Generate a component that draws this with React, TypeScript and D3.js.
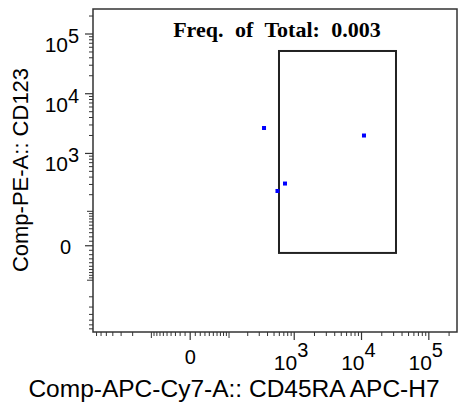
import React from "react";
import * as d3 from "d3";

// ---- data ----
const title = "Freq. of Total: 0.003";
const xAxisTitle = "Comp-APC-Cy7-A:: CD45RA APC-H7";
const yAxisTitle = "Comp-PE-A:: CD123";
const eventsX = [354, 10880, 729, 563];
const eventsY = [2668, 1997, 311, 232];
const gateX = [593, 32520];
const gateY = [-16, 51950];
const majorTicks = [0, 1e3, 1e4, 1e5];
const majorExponents = ["", "3", "4", "5"];
const domainMin = -791;
const domainMax = 262144;
const cofactor = 57;

const W = 459;
const H = 403;
const frame = { left: 93, right: 457, top: 9, bottom: 332 };

const T = (v: number) => Math.asinh(v / cofactor);

function buildMinorTicks(): { v: number; len: number }[] {
  const out: { v: number; len: number }[] = [];
  for (const sign of [1, -1]) {
    for (let k = 1; k <= 5; k++) {
      for (let j = 1; j <= 9; j++) {
        const v = sign * j * Math.pow(10, k);
        if (v < domainMin || v > domainMax) continue;
        if (majorTicks.includes(v)) continue;
        const len = j === 1 && k === 2 ? 6 : 4;
        out.push({ v, len });
      }
    }
  }
  return out;
}

export default function App() {
  const xs = d3.scaleLinear().domain([T(domainMin), T(domainMax)]).range([frame.left, frame.right]);
  const ys = d3.scaleLinear().domain([T(domainMin), T(domainMax)]).range([frame.bottom, frame.top]);
  const x = (v: number) => xs(T(v));
  const y = (v: number) => ys(T(v));
  const minor = buildMinorTicks();
  const sans = "'Liberation Sans', Arial, sans-serif";
  const tickColor = "#333";

  return (
    <svg width={W} height={H} style={{ position: "absolute", left: 0, top: 0, background: "#fff" }}>
      <rect x={0} y={0} width={W} height={H} fill="#fff" />
      {/* frame */}
      <rect
        x={frame.left}
        y={frame.top}
        width={frame.right - frame.left}
        height={frame.bottom - frame.top}
        fill="none"
        stroke="#333"
        strokeWidth={1.5}
      />
      {/* x ticks */}
      {minor.map((t, i) => (
        <line key={"xm" + i} x1={x(t.v)} x2={x(t.v)} y1={frame.bottom} y2={frame.bottom + t.len} stroke={tickColor} strokeWidth={1} />
      ))}
      {majorTicks.map((v, i) => (
        <line key={"xM" + i} x1={x(v)} x2={x(v)} y1={frame.bottom} y2={frame.bottom + 8} stroke={tickColor} strokeWidth={1.2} />
      ))}
      {/* y ticks */}
      {minor.map((t, i) => (
        <line key={"ym" + i} y1={y(t.v)} y2={y(t.v)} x1={frame.left} x2={frame.left - t.len} stroke={tickColor} strokeWidth={1} />
      ))}
      {majorTicks.map((v, i) => (
        <line key={"yM" + i} y1={y(v)} y2={y(v)} x1={frame.left} x2={frame.left - 8} stroke={tickColor} strokeWidth={1.2} />
      ))}
      {/* x tick labels */}
      {majorTicks.map((v, i) =>
        majorExponents[i] === "" ? (
          <text key={"xl" + i} x={x(v)} y={364} textAnchor="middle" fontFamily={sans} fontSize={20}>
            0
          </text>
        ) : (
          <g key={"xl" + i}>
            <text x={x(v) + 3} y={370} textAnchor="end" fontFamily={sans} fontSize={21}>
              10
            </text>
            <text x={x(v) + 3} y={357} textAnchor="start" fontFamily={sans} fontSize={20}>
              {majorExponents[i]}
            </text>
          </g>
        )
      )}
      {/* y tick labels */}
      {majorTicks.map((v, i) =>
        majorExponents[i] === "" ? (
          <text key={"yl" + i} x={71} y={y(v) + 8} textAnchor="end" fontFamily={sans} fontSize={20}>
            0
          </text>
        ) : (
          <g key={"yl" + i}>
            <text x={68} y={y(v) + 18} textAnchor="end" fontFamily={sans} fontSize={21}>
              10
            </text>
            <text x={68} y={y(v) + 9} textAnchor="start" fontFamily={sans} fontSize={20}>
              {majorExponents[i]}
            </text>
          </g>
        )
      )}
      {/* gate */}
      <rect
        x={x(gateX[0])}
        y={y(gateY[1])}
        width={x(gateX[1]) - x(gateX[0])}
        height={y(gateY[0]) - y(gateY[1])}
        fill="none"
        stroke="#222"
        strokeWidth={2}
      />
      {/* events */}
      {eventsX.map((v, i) => (
        <rect key={"p" + i} x={x(v) - 2} y={y(eventsY[i]) - 2} width={4} height={4} fill="#0000ff" />
      ))}
      {/* title */}
      <text x={277} y={37} textAnchor="middle" fontFamily="'Liberation Serif', 'Times New Roman', serif" fontWeight="bold" fontSize={22} wordSpacing={6}>
        {title}
      </text>
      {/* axis titles */}
      <text x={234} y={397} textAnchor="middle" fontFamily={sans} fontSize={24.5}>
        {xAxisTitle}
      </text>
      <text
        transform={`translate(28, 170) rotate(-90)`}
        textAnchor="middle"
        fontFamily={sans}
        fontSize={22}
      >
        {yAxisTitle}
      </text>
    </svg>
  );
}
